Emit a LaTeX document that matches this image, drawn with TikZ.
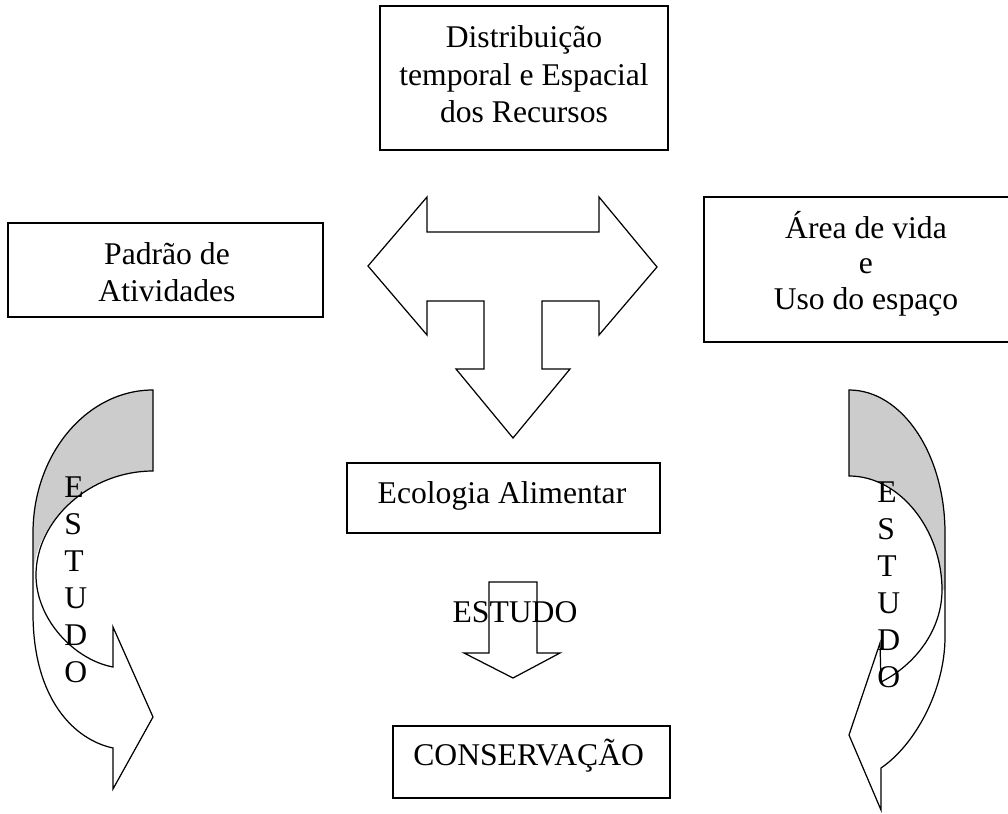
\documentclass[tikz,border=0pt]{standalone}
\usepackage{fontspec}
\setmainfont{Liberation Serif}
\usetikzlibrary{calc}

\tikzset{
 caixa/.style={draw,line width=.9pt},
 seta/.style={draw,line width=.7pt,line join=miter},
 texto/.style={anchor=base,inner sep=0pt,font=\fontsize{18}{21}\selectfont},
 letra/.style={anchor=base west,inner sep=0pt,font=\fontsize{18}{21}\selectfont},
}

\begin{document}
\begin{tikzpicture}[x=.02cm,y=-.02cm]
 \useasboundingbox (0,0) rectangle (1008,814);
 \clip (0,0) rectangle (1008,814);
 % caixas
 \draw[caixa] (380,6) rectangle (668,150);
 \draw[caixa] (8,223) rectangle (323,317);
 \draw[caixa] (704,197) rectangle (1030,342);
 \draw[caixa] (347,463) rectangle (660,533);
 \draw[caixa] (393,726) rectangle (670,798);
 \node[texto] (dist1) at (524,48) {Distribuição};
 \node[texto] (dist2) at (524,86) {temporal e Espacial};
 \node[texto] (dist3) at (524,123) {dos Recursos};
 \node[texto] (pad1) at (167,265) {Padrão de};
 \node[texto] (pad2) at (167,302) {Atividades};
 \node[texto] (area1) at (866,239) {Área de vida};
 \node[texto] (area2) at (866,274) {e};
 \node[texto] (area3) at (866,310) {Uso do espaço};
 \node[texto] (eco) at (502,503) {Ecologia Alimentar};
 \node[texto,anchor=base west] (cons) at (413,765) {CONSERVAÇÃO};
 % seta em T
 \draw[seta] (368,266)--(427,197)--(427,232)--(599,232)--(599,197)--(657,267)--(599,335)--(599,301)
  --(542,301)--(542,369)--(570,369)--(513,438)--(456,369)--(484,369)--(484,301)--(427,301)--(427,335)--cycle;
 % seta pequena
 \draw[seta] (489,582)--(537,582)--(537,653)--(560,653)--(513,678)--(464,653)--(489,653)--cycle;
 \node[texto] (est) at (515,622) {ESTUDO};
 % seta curva esquerda
 \fill[black!20] (153,390) .. controls (87,390) and (33,454) .. (33,533) -- (33,575)
  .. controls (36,520) and (90,471) .. (153,471) -- cycle;
 \draw[seta] (153,390) .. controls (87,390) and (33,454) .. (33,533) -- (33,613)
  .. controls (33,700) and (75,740) .. (113,748) -- (113,789) -- (153,717) -- (113,627) -- (113,667)
  .. controls (75,660) and (36,620) .. (36,575) .. controls (36,520) and (90,471) .. (153,471) -- cycle;
 % seta curva direita
 \fill[black!20] (849,390) .. controls (902,390) and (945,454) .. (945,533) -- (945,590)
  -- (942,590) .. controls (942,530) and (900,476) .. (849,476) -- cycle;
 \draw[seta] (849,390) .. controls (902,390) and (945,454) .. (945,533) -- (945,637)
  .. controls (945,690) and (915,745) .. (881,768) -- (881,810) -- (849,735) -- (880,643) -- (881,682)
  .. controls (915,665) and (942,630) .. (942,590) .. controls (942,530) and (900,476) .. (849,476) -- cycle;
 % letras
 \foreach \l [count=\i from 0] in {E,S,T,U,D,O}{
  \node[letra] (esq\i) at (64,497+37*\i) {\l};
  \node[letra] (dir\i) at (877,502+37*\i) {\l};
 }
\end{tikzpicture}
\end{document}
